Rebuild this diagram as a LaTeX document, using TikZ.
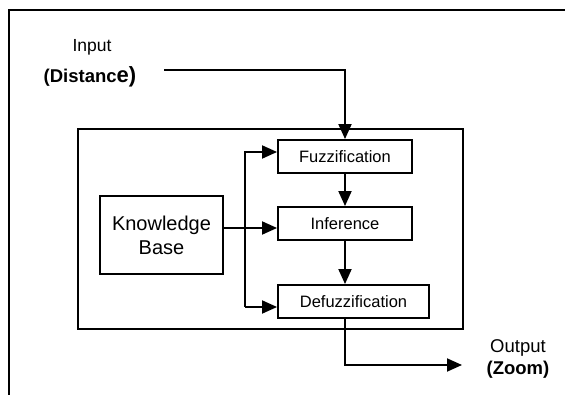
\documentclass[tikz,border=0pt]{standalone}
\usepackage{fontspec}
\setmainfont{Liberation Sans}
\usetikzlibrary{arrows.meta}
\begin{document}
\begin{tikzpicture}[x=1pt,y=-1pt,
  box/.style={draw,line width=1.9pt,minimum height=33pt,inner sep=0pt,font=\fontsize{16.5}{19}\selectfont},
  arr/.style={line width=1.9pt,-{Triangle[length=15pt,width=13pt]}},
  ln/.style={line width=1.9pt},
  lbl/.style={inner sep=0pt,font=\fontsize{18.5}{21}\selectfont}]
\useasboundingbox (0,0) rectangle (565,395);
\fill[white] (0,0) rectangle (565,395);
% outer frame (cut off at right and bottom)
\draw[ln] (9,395) -- (9,10) -- (565,10);
% big box
\draw[ln] (78,129) rectangle (463,329);
% nodes
\node[box,minimum width=134pt] (fuzz) at (345,156.5) {Fuzzification};
\node[box,minimum width=134pt] (inf) at (345,223.5) {Inference};
\node[box,minimum width=151pt] (defuzz) at (353.5,301.5) {Defuzzification};
\node[box,minimum width=123pt,minimum height=78pt,align=center,font=\fontsize{20}{24}\selectfont] (kb) at (161.5,235) {Knowledge\\Base};
% labels
\node[lbl,font=\fontsize{17.5}{20}\selectfont] (inp1) at (92,47) {Input};
\node[lbl,font=\fontsize{18.5}{21}\selectfont\bfseries] (inp2) at (90,77) {(Distanc{\fontsize{22}{24}\selectfont e)}};
\node[lbl] (out1) at (518,348) {Output};
\node[lbl,font=\fontsize{18.5}{21}\selectfont\bfseries] (out2) at (518,370) {(Zoom)};
% coordinates
\coordinate (inS) at (164,70);
\coordinate (outE) at (462,365);
\coordinate (bt) at (245,152);
\coordinate (bm) at (245,228);
\coordinate (bb) at (245,307);
% connectors
\draw[arr] (inS) -| (fuzz.north);
\draw[arr] (fuzz.south) -- (inf.north);
\draw[arr] (inf.south) -- (inf.south |- defuzz.north);
\draw[arr] (kb.east |- bm) -- (inf.west |- bm);
\draw[arr] (bb) -- (bt) -- (fuzz.west |- bt);
\draw[arr] (bb) -- (defuzz.west |- bb);
\draw[arr] (fuzz.south |- defuzz.south) |- (outE);
\end{tikzpicture}
\end{document}
